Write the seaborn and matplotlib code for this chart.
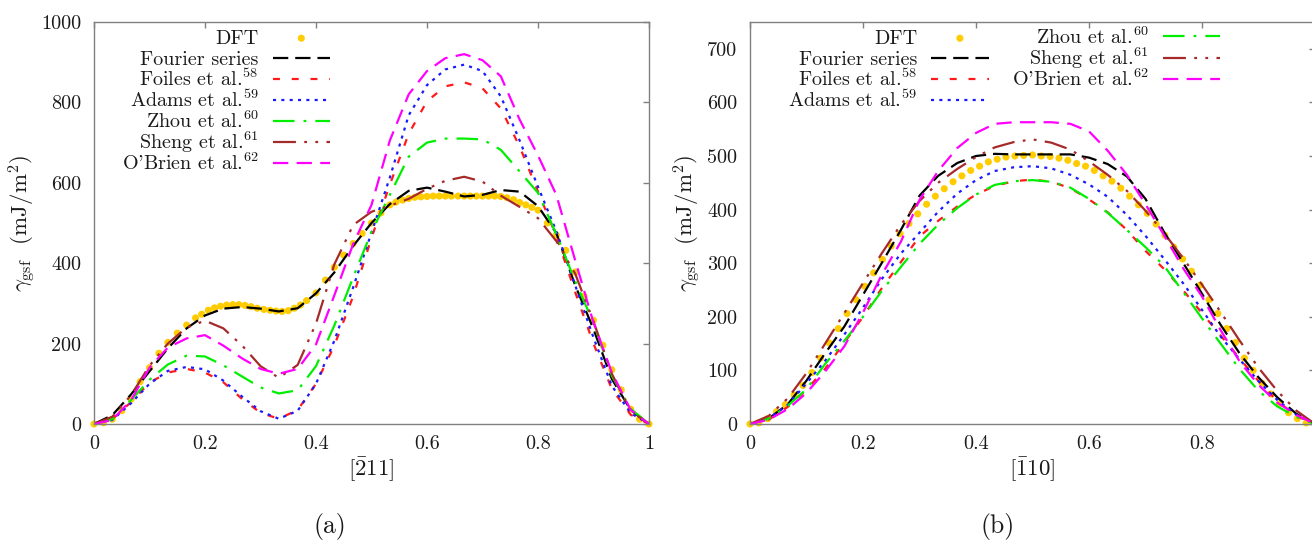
import numpy as np
import pandas as pd
import matplotlib
matplotlib.use("Agg")
import matplotlib.pyplot as plt
import seaborn as sns
from matplotlib.offsetbox import TextArea
from matplotlib.transforms import Bbox

# ---------------- data: panel (a) [-211] ----------------
XA = [0, 0.033, 0.067, 0.1, 0.133, 0.167, 0.2, 0.233, 0.267, 0.3, 0.333, 0.367, 0.4, 0.433,
      0.467, 0.5, 0.533, 0.567, 0.6, 0.633, 0.667, 0.7, 0.733, 0.767, 0.8, 0.833, 0.867,
      0.9, 0.933, 0.967, 1.0]
A_fourier = [0, 22, 74, 131, 188, 238, 270, 287, 291, 287, 280, 288, 325, 377, 443, 500, 547,
             580, 588, 578, 566, 570, 582, 578, 542, 475, 345, 236, 112, 35, 0]
A_foiles = [0, 12, 55, 103, 128, 137, 128, 104, 62, 28, 13, 35, 100, 195, 318, 463, 595, 722,
            803, 840, 850, 835, 785, 690, 578, 468, 328, 200, 87, 23, 0]
A_adams = [0, 10, 52, 100, 132, 142, 136, 108, 68, 32, 13, 33, 100, 207, 340, 476, 613, 768,
           843, 882, 894, 878, 815, 705, 590, 480, 345, 215, 95, 27, 0]
A_zhou = [0, 12, 60, 110, 148, 170, 168, 146, 118, 91, 76, 84, 144, 245, 365, 478, 570, 665,
          700, 710, 710, 708, 682, 628, 575, 472, 355, 252, 120, 38, 0]
A_sheng = [0, 18, 72, 145, 200, 240, 257, 238, 195, 144, 115, 147, 250, 397, 495, 528, 543,
           560, 585, 605, 615, 603, 568, 540, 512, 455, 374, 255, 125, 32, 0]
A_obrien = [0, 10, 60, 140, 190, 213, 221, 195, 163, 137, 125, 137, 198, 320, 448, 545, 705,
            820, 878, 910, 920, 905, 865, 757, 668, 570, 407, 252, 128, 35, 0]

XA_dft = [0, 0.017, 0.033, 0.05, 0.067, 0.083, 0.1, 0.117, 0.133, 0.15, 0.167, 0.183,
          0.194, 0.206, 0.217, 0.228, 0.239, 0.25, 0.261, 0.272, 0.283, 0.294, 0.306, 0.317,
          0.328, 0.339, 0.35, 0.361, 0.372, 0.383, 0.4, 0.417, 0.433, 0.45, 0.467, 0.483, 0.5,
          0.517, 0.533, 0.544, 0.556, 0.567, 0.578, 0.589, 0.6, 0.611, 0.622, 0.633, 0.644,
          0.656, 0.667, 0.678, 0.689, 0.7, 0.711, 0.722, 0.733, 0.744, 0.756, 0.767, 0.778,
          0.789, 0.8, 0.817, 0.833, 0.85, 0.867, 0.883, 0.9, 0.917, 0.933, 0.95, 0.967, 0.983,
          1.0]
A_dft = [0, 3, 12, 33, 62, 105, 140, 176, 203, 226, 246, 264,
         273, 283, 289, 293, 296, 297, 297, 295, 292, 288, 285, 283,
         281, 280, 282, 288, 296, 307, 326, 358, 390, 420, 449, 474, 500,
         525, 545, 552, 557, 561, 564, 565, 566, 567, 567, 567, 567,
         567, 567, 567, 567, 567, 567, 567, 566, 563, 558, 551, 545,
         539, 532, 500, 470, 432, 378, 318, 258, 196, 135, 85, 37, 12,
         0]

# ---------------- data: panel (b) [-110] ----------------
XB = XA
B_fourier = [0, 10, 37, 81, 132, 182, 241, 300, 362, 426, 463, 487, 500, 504, 503, 503, 503,
             503, 497, 485, 462, 420, 358, 300, 243, 185, 131, 87, 50, 19, 0]
B_foiles = [0, 8, 32, 64, 103, 152, 200, 253, 302, 350, 379, 406, 428, 444, 453, 456, 452,
            440, 419, 395, 362, 323, 289, 249, 207, 165, 122, 80, 43, 15, 0]
B_adams = [0, 10, 36, 76, 118, 167, 217, 270, 318, 357, 396, 430, 455, 472, 479, 481, 477,
           465, 447, 424, 390, 351, 308, 262, 213, 163, 120, 80, 45, 17, 0]
B_zhou = [0, 10, 34, 65, 112, 155, 200, 248, 293, 336, 372, 403, 428, 446, 453, 455, 452,
          441, 420, 394, 362, 330, 295, 246, 197, 150, 102, 62, 33, 13, 0]
B_sheng = [0, 15, 48, 95, 150, 207, 263, 318, 372, 416, 450, 476, 498, 516, 526, 531, 525,
           512, 490, 465, 435, 398, 356, 309, 260, 209, 155, 105, 62, 25, 0]
B_obrien = [0, 8, 28, 58, 98, 145, 208, 278, 340, 418, 472, 515, 543, 560, 563, 563, 563,
            560, 546, 510, 465, 410, 352, 290, 238, 175, 116, 73, 40, 17, 0]

XB_dft = [0, 0.0156, 0.0313, 0.0469, 0.0625, 0.0781, 0.0938, 0.1094, 0.125, 0.1406, 0.1563,
          0.1719, 0.1875, 0.2031, 0.2188, 0.2344, 0.25, 0.2656, 0.2813, 0.2969, 0.3125, 0.3281,
          0.3438, 0.3594, 0.375, 0.3906, 0.4063, 0.4219, 0.4375, 0.4531, 0.4688, 0.4844, 0.5,
          0.5156, 0.5313, 0.5469, 0.5625, 0.5781, 0.5938, 0.6094, 0.625, 0.6406, 0.6563,
          0.6719, 0.6875, 0.7031, 0.7188, 0.7344, 0.75, 0.7656, 0.7813, 0.7969, 0.8125,
          0.8281, 0.8438, 0.8594, 0.875, 0.8906, 0.9063, 0.9219, 0.9375, 0.9531, 0.9688,
          0.9844, 1.0]
B_dft = [0, 2, 10, 23, 36, 54, 72, 96, 123, 151, 178, 206, 232, 257, 282, 307, 332, 355, 374,
         392, 410, 425, 439, 452, 463, 473, 481, 489, 494, 498, 500, 501, 502, 500, 499, 496,
         492, 486, 481, 473, 463, 453, 440, 425, 409, 393, 373, 352, 330, 308, 285, 259, 232,
         206, 178, 152, 123, 100, 76, 56, 38, 21, 10, 2, 0]

LABELS = ["DFT", "Fourier series", r"Foiles et al.$^{58}$", r"Adams et al.$^{59}$",
          r"Zhou et al.$^{60}$", r"Sheng et al.$^{61}$", r"O'Brien et al.$^{62}$"]
COLORS = ["#ffcc00", "#000000", "#ff1a1a", "#1a1aff", "#00ee00", "#a52a2a", "#ff00ff"]
STYLES = [None, (0, (11, 5)), (0, (5, 8.5)), (0, (2.2, 3.8)), (0, (15.5, 6.5, 2, 6.5)),
          (0, (16.5, 6, 2, 6, 2, 6)), (0, (11, 6))]

sns.set_theme(style="white")
plt.rcParams.update({
    "font.family": ["cmr10", "DejaVu Serif"],
    "mathtext.fontset": "cm",
    "axes.formatter.use_mathtext": True,
    "font.size": 14.5,
    "lines.scale_dashes": False,
    "axes.unicode_minus": False,
})

FS = 14.5
FS_LAB = 16.5
TXT = "#1a1a1a"
W, H = 1312, 543
fig = plt.figure(figsize=(W / 100, H / 100), dpi=100)
axA = fig.add_axes([94 / W, 1 - 424 / H, 555 / W, 402 / H])
axB = fig.add_axes([750 / W, 1 - 424 / H, 565 / W, 402 / H])


def draw(ax, xd, yd, x, series):
    sns.scatterplot(x=xd, y=yd, ax=ax, color=COLORS[0], s=26, edgecolor="none",
                    linewidth=0, label=LABELS[0], legend=False, zorder=1, clip_on=False)
    for i, y in enumerate(series, start=1):
        sns.lineplot(x=x, y=y, ax=ax, color=COLORS[i], linestyle=STYLES[i], linewidth=1.6,
                     label=LABELS[i], legend=False, zorder=2)


draw(axA, XA_dft, A_dft, XA, [A_fourier, A_foiles, A_adams, A_zhou, A_sheng, A_obrien])
draw(axB, XB_dft, B_dft, XB, [B_fourier, B_foiles, B_adams, B_zhou, B_sheng, B_obrien])

for ax, ymax, yt, xt, xtl in [
        (axA, 1000, range(0, 1001, 200), [0, 0.2, 0.4, 0.6, 0.8, 1.0],
         ["0", "0.2", "0.4", "0.6", "0.8", "1"]),
        (axB, 750, range(0, 701, 100), [0, 0.2, 0.4, 0.6, 0.8],
         ["0", "0.2", "0.4", "0.6", "0.8"])]:
    ax.set_xlim(0, 1)
    ax.set_ylim(0, ymax)
    ax.set_xticks(xt)
    ax.set_xticklabels(xtl)
    ax.set_yticks(list(yt))
    ax.set_yticklabels([str(v) for v in yt])
    ax.tick_params(direction="in", length=4.5, width=1.0, color="#808080", top=True,
                   right=True, labelsize=FS, labelcolor=TXT)
    ax.tick_params(axis="x", pad=8)
    ax.tick_params(axis="y", pad=9)
    for s in ax.spines.values():
        s.set_color("#808080")
        s.set_linewidth(1.0)
    ax.set_ylabel(r"$\gamma_{\rm gsf}$  (mJ/m$^2$)", fontsize=FS_LAB, color=TXT)

axA.set_xlabel(r"$[\bar{2}11]$", fontsize=FS_LAB, color=TXT)
axB.set_xlabel(r"$[\bar{1}10]$", fontsize=FS_LAB, color=TXT)
axA.xaxis.set_label_coords(0.5, -0.078)
axB.xaxis.set_label_coords(0.5, -0.078)
axA.yaxis.set_label_coords(-0.101, 0.5)
axB.yaxis.set_label_coords(-0.084, 0.5)


def legend(ax, anchor, ncol):
    h, l = ax.get_legend_handles_labels()
    order = [l.index(lab) for lab in LABELS]
    return ax.legend([h[i] for i in order], [l[i] for i in order], loc="upper right",
                     bbox_to_anchor=anchor, ncol=ncol, frameon=False, markerfirst=False,
                     handlelength=2.85, handletextpad=0.7, labelspacing=-0.22, borderpad=0,
                     borderaxespad=0, columnspacing=1.15, fontsize=FS, numpoints=1,
                     scatterpoints=1, labelcolor=TXT)


def equalize_rows(leg, renderer):
    tas = []

    def walk(box):
        for ch in box.get_children():
            if isinstance(ch, TextArea):
                tas.append(ch)
            elif hasattr(ch, "get_children"):
                walk(ch)

    walk(leg._legend_handle_box)
    bbs = [ta.get_bbox(renderer) for ta in tas]
    top = max(b.y1 for b in bbs)
    bot = min(b.y0 for b in bbs)
    for ta in tas:
        orig = ta.get_bbox

        def nb(rend, orig=orig):
            b = orig(rend)
            return Bbox.from_bounds(b.x0, bot, b.width, top - bot)

        ta.get_bbox = nb


legA = legend(axA, ((330 - 94) / 555, (424 - 24) / 402), 1)
legB = legend(axB, ((1220 - 750) / 565, (424 - 24) / 402), 2)

fig.text(330 / W, 1 - 527 / H, "(a)", ha="center", va="center", fontsize=18.5, color=TXT)
fig.text(998 / W, 1 - 527 / H, "(b)", ha="center", va="center", fontsize=18.5, color=TXT)

fig.canvas.draw()
rend = fig.canvas.get_renderer()
equalize_rows(legA, rend)
equalize_rows(legB, rend)

fig.savefig("out.png", dpi=100)
